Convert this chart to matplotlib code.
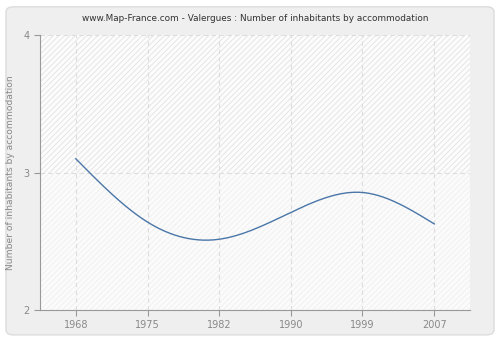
import matplotlib
matplotlib.use("Agg")
import matplotlib.pyplot as plt
import numpy as np
from matplotlib.patches import FancyBboxPatch, Rectangle

years = ["1968", "1975", "1982", "1990", "1999", "2007"]
values = [3.10, 2.64, 2.515, 2.71, 2.855, 2.627]
y_ticks = [2, 3, 4]


def natural_spline(x, y, n=300):
    # natural cubic spline through the points
    x = np.asarray(x, float)
    y = np.asarray(y, float)
    k = len(x)
    h = np.diff(x)
    A = np.zeros((k, k))
    b = np.zeros(k)
    A[0, 0] = A[-1, -1] = 1
    for i in range(1, k - 1):
        A[i, i - 1] = h[i - 1]
        A[i, i] = 2 * (h[i - 1] + h[i])
        A[i, i + 1] = h[i]
        b[i] = 3 * ((y[i + 1] - y[i]) / h[i] - (y[i] - y[i - 1]) / h[i - 1])
    c = np.linalg.solve(A, b)
    xs = np.linspace(x[0], x[-1], n)
    idx = np.clip(np.searchsorted(x, xs) - 1, 0, k - 2)
    dx = xs - x[idx]
    bb = (y[idx + 1] - y[idx]) / h[idx] - h[idx] * (2 * c[idx] + c[idx + 1]) / 3
    d = (c[idx + 1] - c[idx]) / (3 * h[idx])
    ys = y[idx] + bb * dx + c[idx] * dx ** 2 + d * dx ** 3
    return xs, ys


fig = plt.figure(figsize=(5, 3.4), dpi=100)
fig.patch.set_facecolor("white")
fig.patches.append(FancyBboxPatch((0.012, 0.015), 0.976, 0.965,
                                  boxstyle="round,pad=0,rounding_size=0.015",
                                  transform=fig.transFigure, facecolor="#efefef",
                                  edgecolor="#dcdcdc", linewidth=1, zorder=-10))

ax = fig.add_axes([0.08, 0.088, 0.86, 0.809])
ax.set_facecolor("#fbfbfb")

plt.rcParams["hatch.linewidth"] = 0.6
ax.add_patch(Rectangle((0, 0.5), 1, 0.5, transform=ax.transAxes, facecolor="#fcfcfc",
                       edgecolor="#e2e2e2", hatch="//////", linewidth=0, zorder=0))
ax.add_patch(Rectangle((0, 0), 1, 0.5, transform=ax.transAxes, facecolor="#fbfbfb",
                       edgecolor="#efefef", hatch="//////", linewidth=0, zorder=0))

pos = np.arange(len(years))
xs, ys = natural_spline(pos, values)
ax.plot(xs, ys, color="#4a76a8", linewidth=1, zorder=3)

ax.set_xlim(-0.5, len(years) - 0.5)
ax.set_ylim(2, 4)
ax.set_xticks(pos)
ax.set_xticklabels(years)
ax.set_yticks(y_ticks)
ax.grid(True, color="#dddddd", linestyle=(0, (4, 3)), linewidth=0.8)
ax.set_axisbelow(True)

for s in ["top", "right"]:
    ax.spines[s].set_visible(False)
for s in ["left", "bottom"]:
    ax.spines[s].set_color("#999999")
ax.tick_params(colors="#999999", labelcolor="#888888", labelsize=7, length=4, width=0.8)

ax.set_ylabel("Number of inhabitants by accommodation", color="#888888", fontsize=6.6,
              labelpad=6)
ax.set_title("www.Map-France.com - Valergues : Number of inhabitants by accommodation",
             fontsize=6.4, color="#333333", pad=10)

fig.savefig("out.png", dpi=100)
